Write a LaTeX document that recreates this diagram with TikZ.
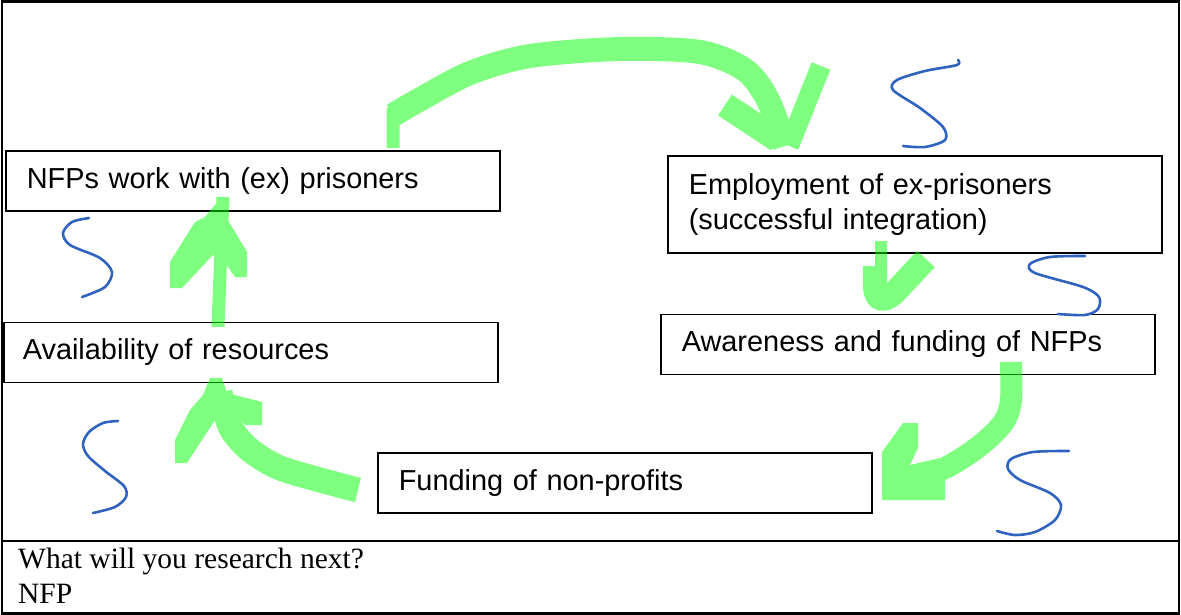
\documentclass[tikz,border=0pt]{standalone}
\usepackage{fontspec}
\setmainfont{Liberation Serif}
\newfontfamily\arialfont{Liberation Sans}
\usetikzlibrary{positioning}
\definecolor{hlgreen}{RGB}{0,255,0}
\definecolor{sqblue}{RGB}{48,98,192}
\newcommand{\sansbig}{\arialfont\fontsize{28.9}{35}\selectfont}
\newcommand{\serifbig}{\fontsize{29.5}{33}\selectfont}

\begin{document}
\begin{tikzpicture}[x=1pt, y=-1pt,
    box/.style={draw, line width=1.6pt, text width=452pt, inner xsep=21pt,
                inner ysep=0pt, minimum height=60pt, align=left, font=\sansbig},
    hl/.style={draw=hlgreen, line width=#1, line cap=butt, line join=round},
    hl/.default=24pt,
    sq/.style={draw=sqblue, line width=2.6pt, line cap=round, line join=round},
    txt/.style={anchor=base west, inner sep=0pt, font=\serifbig}
  ]
  \useasboundingbox (0,0) rectangle (1181,615);
  \draw[line width=2.2pt] (2,1.5) rectangle (1179,613.5);
  \draw[line width=2.2pt] (2,541) -- (1179,541);

  \node[box, anchor=north west] (nfp) at (5,150) {NFPs work with (ex) prisoners};
  \node[box, below=110pt of nfp, xshift=-2pt, inner xsep=19pt, text width=456pt] (avail)
    {Availability of resources};
  \node[box, anchor=north west, minimum height=97pt] (emp) at (667,155)
    {Employment of ex-prisoners\\(successful integration)};
  \node[box, below=60pt of emp, xshift=-7pt] (aware) {Awareness and funding of NFPs};
  \node[box, anchor=north west] (fund) at (377,452) {Funding of non-profits};

  \node[txt] (question) at (18,568) {What will you research next?};
  \node[txt] (answer) at (18,603) {NFP};

  \coordinate (as) at (393,148);
  \coordinate (at) at (785,146);
  \coordinate (bs) at (881,241);
  \coordinate (cs) at (1011,362);
  \coordinate (ds) at (358,490);
  \coordinate (es) at (218,327);

  \begin{scope}[transparency group, opacity=0.5]
    \draw[hl=13pt] (as) -- (393,108);
    \draw[hl] plot[smooth] coordinates {(393,115) (419,100) (470,73) (530,56)
      (620,49) (700,52) (745,70) (768,100) (at)};
    \draw[hl=25pt] (725,105) -- (778,140);
    \draw[hl=20pt] (821,66) -- (789,146);

    \draw[hl=12pt] (bs) -- (881,272);
    \draw[hl] (875,266) -- (875,285) .. controls (875,302) and (885,303) .. (897,290) -- (926,259);

    \draw[hl=22pt] plot[smooth] coordinates {(cs) (1011,400) (1005,420) (990,437)
      (970,453) (945,468) (915,480)};
    \fill[hlgreen] (882,500) -- (882,452) -- (903,423) -- (918,423) -- (918,448)
      -- (910,465) -- (940,458) -- (945,480) -- (945,500) -- cycle;

    \draw[hl=25pt] plot[smooth] coordinates {(ds) (335,484) (280,468) (250,450)
      (232,430) (223,405) (220,392)};
    \fill[hlgreen] (175,463) -- (175,440) -- (190,410) -- (203,395) -- (210,378)
      -- (222,378) -- (227,393) -- (262,402) -- (262,425) -- (245,425) -- (232,412)
      -- (215,420) -- (187,463) -- cycle;

    \draw[hl=13pt] (es) -- (223,197);
    \fill[hlgreen] (170,288) -- (170,262) -- (195,222) -- (205,217) -- (219,200)
      -- (229,222) -- (247,252) -- (247,277) -- (235,277) -- (224,261) -- (213,255)
      -- (182,288) -- cycle;
  \end{scope}

  \draw[sq] plot[smooth] coordinates {(958,60) (957,65) (925,71) (897,80) (893,90)
    (920,108) (943,127) (945,140) (925,147) (903,146)};
  \draw[sq] plot[smooth] coordinates {(89,218) (72,222) (63,233) (70,245) (100,258)
    (112,272) (105,287) (82,297)};
  \draw[sq] plot[smooth] coordinates {(1085,256) (1050,257) (1030,264) (1035,273)
    (1083,287) (1099,297) (1098,309) (1085,315) (1058,314)};
  \draw[sq] plot[smooth] coordinates {(1069,451) (1033,452) (1011,459) (1008,469)
    (1020,480) (1050,493) (1061,505) (1055,520) (1035,532) (1015,535) (997,531)};
  \draw[sq] plot[smooth] coordinates {(118,421) (103,423) (89,432) (83,444) (88,456)
    (105,471) (124,486) (126,497) (115,507) (93,513)};
\end{tikzpicture}
\end{document}
